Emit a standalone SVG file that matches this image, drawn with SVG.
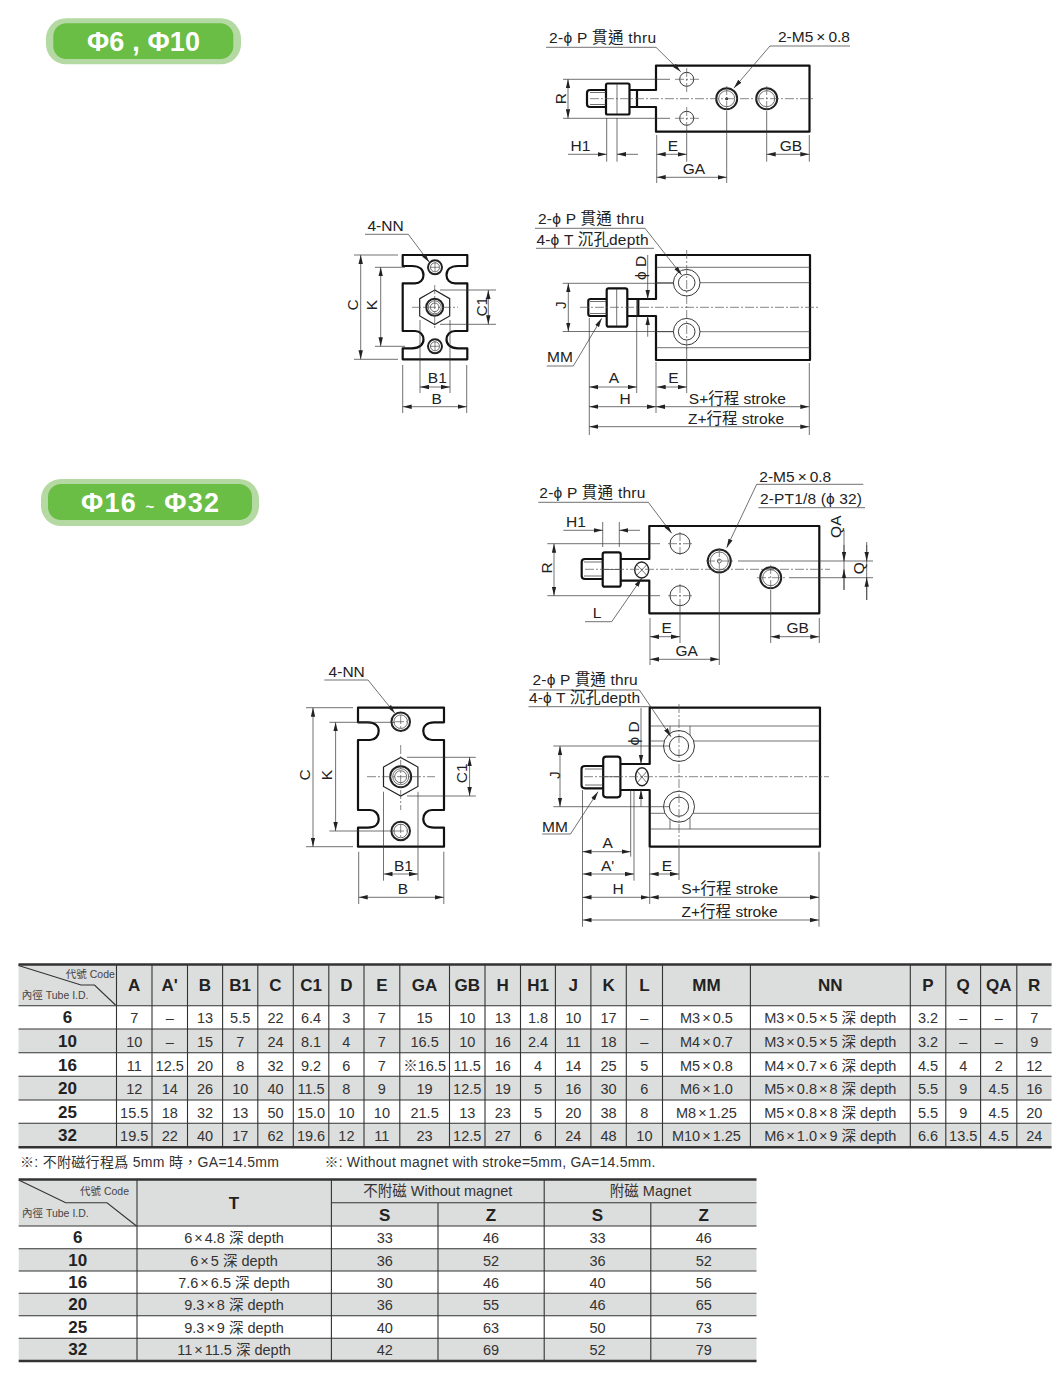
<svg xmlns="http://www.w3.org/2000/svg" width="1060" height="1392" viewBox="0 0 1060 1392">
<style>
text{font-family:"Liberation Sans","Noto Sans CJK TC",sans-serif;fill:#222;text-anchor:middle}
.l{font-size:15.5px}
.s{text-anchor:start}
.b{fill:none;stroke:#111;stroke-width:2.2;stroke-linejoin:round}
.t{fill:none;stroke:#333;stroke-width:.7}
.h{fill:#fff;stroke:#222;stroke-width:.9}
.hb{fill:#fff;stroke:#222;stroke-width:2}
.c{fill:none;stroke:#555;stroke-width:.7;stroke-dasharray:9 2 2 2}
.d{fill:none;stroke:#333;stroke-width:.7}
.a{fill:none;stroke:#333;stroke-width:.7;marker-end:url(#ar)}
.aa{fill:none;stroke:#333;stroke-width:.7;marker-end:url(#ar);marker-start:url(#ar)}
.g{fill:#dcdddd}
.tl{stroke:#333;stroke-width:1.1;fill:none}
.tk{stroke:#333;stroke-width:2.4;fill:none}
.hd{font-size:17px;font-weight:bold;fill:#222}
.rw{font-size:17px;font-weight:bold;fill:#222}
.v{font-size:14.5px;fill:#333}
.sm{font-size:10.5px;fill:#444}
.pt{font-size:27px;font-weight:bold;fill:#fff}
</style>
<defs>
<marker id="ar" markerUnits="userSpaceOnUse" markerWidth="9" markerHeight="5" refX="9" refY="2.5" orient="auto-start-reverse"><path d="M0 .3L9 2.5L0 4.7z" fill="#222"/></marker>
</defs>

<g id="pill-phi6-10">
<rect x="46" y="18.3" width="195" height="46" rx="20" fill="#b5d9a3"/>
<rect x="53.3" y="23.3" width="180" height="35.7" rx="13" fill="#6abd45"/>
<text class="pt s" x="87" y="51" textLength="113">Φ6 , Φ10</text>
</g>
<g id="pill-phi16-32">
<rect x="41" y="479" width="218" height="47" rx="20" fill="#b5d9a3"/>
<rect x="48" y="484" width="204" height="36" rx="13" fill="#6abd45"/>
<text class="pt s" x="81" y="512" textLength="138">Φ16 <tspan font-size="15">~</tspan> Φ32</text>
</g>

<g id="view-a-top">
<path class="b" d="M637 90H656V65.7H809.5V131.7H656V107H637"/>
<rect class="b" x="606" y="83.5" width="23.5" height="31" rx="1.5"/>
<path class="b" d="M629.5 90H637V107H629.5M606 90H590Q587 90 587 93V104Q587 107 590 107H606"/>
<path class="t" d="M590 92.5H606M590 104.5H606M617 84V114"/>
<circle class="h" cx="686.7" cy="79.3" r="7"/><circle class="h" cx="686.7" cy="118.3" r="7"/>
<circle class="hb" cx="726.7" cy="98.7" r="10.5"/><circle class="t" cx="726.7" cy="98.7" r="8"/><circle cx="726.7" cy="98.7" r="1.5" fill="#333"/>
<circle class="hb" cx="766.7" cy="98.7" r="10.5"/><circle class="t" cx="766.7" cy="98.7" r="8"/>
<path class="c" d="M590 98.7H815M675 79.3H699M675 118.3H699M686.7 68V92M686.7 107V129M726.7 86V111M766.7 86V111"/>
</g>

<g id="view-b-end">
<path class="b" d="M412 266H402.7V255H467.3V266H458C450 266 446.5 270 446.5 275C446.5 280 450 283.3 455 283.3H467.3V331H455C450 331 446.5 335 446.5 339.5C446.5 344 450 348.3 458 348.3H467.3V359.3H402.7V348.3H412C420 348.3 423.5 344 423.5 339.5C423.5 335 420 331 415 331H402.7V283.3H415C420 283.3 423.5 280 423.5 275C423.5 270 420 266 412 266Z"/>
<polygon class="h" points="434.7,290.1 449.7,298.7 449.7,315.9 434.7,324.5 419.7,315.9 419.7,298.7" style="stroke-width:1.2"/>
<circle class="hb" cx="434.7" cy="307.3" r="8.5"/><circle class="t" cx="434.7" cy="307.3" r="6.5"/><circle class="t" cx="434.7" cy="307.3" r="4.3"/>
<circle class="hb" cx="435" cy="267.3" r="7"/><circle class="t" cx="435" cy="267.3" r="4.5"/>
<circle class="hb" cx="435" cy="346.3" r="7"/><circle class="t" cx="435" cy="346.3" r="4.5"/>
<path class="c" d="M412 307.3H458M434.7 285V330M430 267.3H440M435 262V272M430 346.3H440M435 341V351"/>
</g>

<g id="view-b-side">
<path class="b" d="M638.3 299H656V255H810V360H656V316H638.3"/>
<rect class="b" x="606.7" y="288.3" width="20.6" height="38.4" rx="2"/>
<path class="b" d="M627.3 299H638.3V316H627.3M606.7 299H590.5Q588.3 299 588.3 301V314Q588.3 316 590.5 316H606.7"/>
<path class="t" d="M590 301.5H606.7M590 313.5H606.7M616.7 289V326"/>
<path class="t" d="M656 267.3H810M656 282.7H810M656 331.7H810M656 347.7H810"/>
<circle class="h" cx="686.7" cy="282.7" r="13.3"/><circle class="h" cx="686.7" cy="282.7" r="8.3"/>
<circle class="h" cx="686.7" cy="331.7" r="13.3"/><circle class="h" cx="686.7" cy="331.7" r="8.3"/>
<path class="c" d="M580 307.3H820M686.7 250V350"/>
</g>

<g id="view-c-top">
<path class="b" d="M620.7 559H649.3V526H819.3V613.3H649.3V580.7H620.7"/>
<rect class="b" x="602.7" y="552.3" width="18" height="34.4" rx="2"/>
<path class="b" d="M602.7 559H585Q581.7 559 581.7 562V576Q581.7 579 585 579H602.7"/>
<path class="t" d="M584 562H602.7M584 576H602.7M603 569.5H620.5"/>
<ellipse class="h" cx="641.7" cy="570" rx="7" ry="8" style="stroke-width:1.4"/>
<path class="t" d="M636.5 564.5L647 575.5M647 564.5L636.5 575.5"/>
<circle class="h" cx="680" cy="543.7" r="10"/><circle class="h" cx="680" cy="595.7" r="10"/>
<circle class="hb" cx="719.3" cy="561" r="11.5"/><circle class="t" cx="719.3" cy="561" r="9"/><circle class="t" cx="719.3" cy="561" r="2"/>
<circle class="hb" cx="770.7" cy="577.7" r="10.5"/><circle class="t" cx="770.7" cy="577.7" r="8"/>
<path class="c" d="M585 569.3H830M668 543.7H692M668 595.7H692M680 532V555M680 584V607M706 561H733M719.3 548V574M757 577.7H785M770.7 565V590"/>
</g>

<g id="view-d-end">
<path class="b" d="M368 722.3H358V707.7H444V722.3H434C427 722.3 423.3 726 423.3 731C423.3 736 427 740 432 740H444V810H432C427 810 423.3 814 423.3 819C423.3 824 427 827.7 434 827.7H444V846.7H358V827.7H368C375 827.7 378.7 824 378.7 819C378.7 814 375 810 370 810H358V740H370C375 740 378.7 736 378.7 731C378.7 726 375 722.3 368 722.3Z"/>
<polygon class="h" points="400.7,757.4 417.9,767 417.9,786.4 400.7,796 383.5,786.4 383.5,767" style="stroke-width:1.2"/>
<circle class="hb" cx="400.7" cy="776.7" r="10.5"/><circle class="t" cx="400.7" cy="776.7" r="8"/><circle class="t" cx="400.7" cy="776.7" r="6"/>
<circle class="hb" cx="400.7" cy="721.7" r="9.3"/><circle class="t" cx="400.7" cy="721.7" r="6.8"/>
<circle class="hb" cx="400.7" cy="831" r="9.3"/><circle class="t" cx="400.7" cy="831" r="6.8"/>
<path class="c" d="M367 776.7H435M400.7 745V810M395 721.7H407M400.7 715V729M395 831H407M400.7 824V838"/>
</g>

<g id="view-d-side">
<path class="b" d="M620.4 764H649.7V707.7H820V846.7H649.7V790H620.4"/>
<rect class="b" x="603.2" y="756.7" width="17.2" height="40.6" rx="3"/>
<path class="b" d="M603.2 766H585Q581.5 766 581.5 769V785Q581.5 788.3 585 788.3H603.2"/>
<path class="t" d="M585 769H603.2M585 785H603.2M603.5 776.7H620"/>
<ellipse class="h" cx="642" cy="776.7" rx="6.5" ry="9" style="stroke-width:1.4"/>
<path class="t" d="M637 771L647 783M647 771L637 783"/>
<path class="t" d="M649.7 726H820M649.7 741H820M649.7 813.3H820M649.7 829H820M670 726V738M690 726V738M670 815V829M690 815V829"/>
<circle class="h" cx="679" cy="746" r="15.5"/><circle class="h" cx="679" cy="746" r="9.6"/>
<circle class="h" cx="679" cy="806.7" r="15.5"/><circle class="h" cx="679" cy="806.7" r="9.6"/>
<path class="c" d="M584 776.7H829M679 704V850"/>
</g>

<g id="connectors">
<path class="d" d="M546 47.3H656M770 46H850M563 79.3H670M563 118.3H670M606.7 118V161.7M617 118V161.7M656.7 135V183M686.7 129V161.7M726.7 111V183M766.7 111V161.7M809.3 135V161.7"/>
<path class="a" d="M656 47.3L680.7 71.7"/><path class="a" d="M770 46L734 88"/>
<path class="aa" d="M568 79.3V118.3"/>
<path class="a" d="M568 154.3H606.7"/><path class="a" d="M638 154.3H617"/>
<path class="aa" d="M656.7 154.3H686.7"/><path class="aa" d="M656.7 177.3H726.7"/><path class="aa" d="M766.7 154.3H809.3"/>
<path class="d" d="M365 234.3H408.3M535 228.3H645M536 248.3H654M546.7 366H573.3M354 255H398M354 359.3H398M375 267.3H405M375 346.3H405M440 290H496M440 324.3H496M420 320V393M450 320V393M402.7 365V413M466.7 365V413M562.7 283.3H673M562.7 331.5H673M589.3 318V435M636.7 300V393M656 362V413M686.7 348V393M809.3 363V435"/>
<path class="a" d="M408.3 234.3L429.3 262.3"/><path class="a" d="M645 228.3L681.7 275"/><path class="a" d="M573.3 366L601.7 318.3"/>
<path class="aa" d="M360.7 255V359.3"/><path class="aa" d="M380.7 267.3V346.3"/><path class="aa" d="M488.3 290V324.3"/>
<path class="aa" d="M420 387H450"/><path class="aa" d="M402.7 406.7H466.7"/><path class="aa" d="M568.3 283.3V331.5"/>
<path class="a" d="M647.7 255V299"/><path class="a" d="M647.7 336.7V316"/>
<path class="aa" d="M589.3 387H636.7"/><path class="aa" d="M589.3 406.7H656"/><path class="aa" d="M656.7 387H686.7"/><path class="aa" d="M656 406.7H809.3"/><path class="aa" d="M589.3 426.7H809.3"/>
<path class="d" d="M538.3 502.3H648.3M756.7 484.3H863.3M758.3 507.7H865M585 621.7H611.7M602.7 522V547M619.3 522V547M547.3 543.7H660M547.3 595.7H660M650 618V665M680 607V643M719.3 574V665M770.7 590V643M819.3 618V643M738 561H873M789 577.7H873M844 530V590M866.7 542V600"/>
<path class="a" d="M648.3 502.3L671.7 533.3"/><path class="a" d="M756.7 484.3L726.7 547.7"/><path class="a" d="M611.7 621.7L641.7 578.3"/>
<path class="a" d="M563.3 530.3H602.7"/><path class="a" d="M640 530.3H619.3"/>
<path class="aa" d="M554 543.7V595.7"/>
<path class="aa" d="M650 636.7H680"/><path class="aa" d="M650 659.3H719.3"/><path class="aa" d="M770.7 636.7H819.3"/>
<path class="a" d="M844 545V561"/><path class="a" d="M844 590V569.3"/><path class="a" d="M866.7 545V561"/><path class="a" d="M866.7 600V577.7"/>
<path class="d" d="M324.3 680H368M529 690H639.4M528.5 706.7H649.7M542.2 834H570.5M306 707.7H353M306 846.7H353M329.4 722.3H395M329.4 831H395M407 757.3H475.8M407 796H475.8M383.5 791.7V880.7M418 791.7V880.7M358.7 851.7V904M443.8 851.7V904M553.3 746H670M553.3 806.7H670M582.5 790V926.7M630.7 790V856.7M634 790V880.7M649.7 848V904M679 848V880M819 851.7V926.7"/>
<path class="a" d="M368 680L394.9 713.3"/><path class="a" d="M639.4 690L671 736.7"/><path class="a" d="M570.5 834L598 791.7"/>
<path class="aa" d="M313 707.7V846.7"/><path class="aa" d="M335.6 722.3V831"/><path class="aa" d="M469.6 757.3V796"/>
<path class="aa" d="M383.5 874H418"/><path class="aa" d="M358.7 897.3H443.8"/>
<path class="aa" d="M560 746V806.7"/>
<path class="a" d="M641 708V764"/><path class="a" d="M641 806.7V790"/>
<path class="aa" d="M582.5 851.7H630.7"/><path class="aa" d="M582.5 874H634"/><path class="aa" d="M582.5 897.3H649.7"/><path class="aa" d="M649.7 874H679"/><path class="aa" d="M649.7 897.3H819"/><path class="aa" d="M582.5 920H819"/>
</g>

<g id="labels">
<text class="l s" x="549" y="42.7" textLength="107">2-ϕ P 貫通 thru</text>
<text class="l s" x="778" y="41.7">2-M5<tspan dx="3">×</tspan><tspan dx="3">0.8</tspan></text>
<text class="l" transform="translate(566,98.7) rotate(-90)">R</text>
<text class="l" x="580.5" y="151">H1</text><text class="l" x="673" y="151">E</text><text class="l" x="694" y="174">GA</text><text class="l" x="791" y="151">GB</text>

<text class="l" x="385.5" y="231">4-NN</text>
<text class="l" transform="translate(358,305) rotate(-90)">C</text>
<text class="l" transform="translate(377,305) rotate(-90)">K</text>
<text class="l" transform="translate(487,306.7) rotate(-90)">C1</text>
<text class="l" x="437.3" y="383.3">B1</text><text class="l" x="436.7" y="404">B</text>
<text class="l s" x="538" y="224.3" textLength="106">2-ϕ P 貫通 thru</text>
<text class="l s" x="536.5" y="245" textLength="112">4-ϕ T 沉孔depth</text>
<text class="l" transform="translate(646,268) rotate(-90)">ϕ D</text>
<text class="l" transform="translate(565.5,305) rotate(-90)">J</text>
<text class="l" x="560" y="362.3">MM</text>
<text class="l" x="614" y="383.3">A</text><text class="l" x="625" y="404.3">H</text><text class="l" x="673.3" y="383.3">E</text>
<text class="l" x="737.3" y="404.3">S+行程 stroke</text><text class="l" x="736" y="424">Z+行程 stroke</text>

<text class="l s" x="539.3" y="497.7" textLength="106">2-ϕ P 貫通 thru</text>
<text class="l s" x="759.3" y="482.3">2-M5<tspan dx="3">×</tspan><tspan dx="3">0.8</tspan></text>
<text class="l s" x="760" y="504.3" textLength="102">2-PT1/8 (ϕ 32)</text>
<text class="l" x="576" y="526.7">H1</text>
<text class="l" transform="translate(551.5,568) rotate(-90)">R</text>
<text class="l" x="597" y="617.7">L</text>
<text class="l" x="666.7" y="633.3">E</text><text class="l" x="686.7" y="656">GA</text><text class="l" x="797.7" y="633.3">GB</text>
<text class="l" transform="translate(841,526.7) rotate(-90)">QA</text>
<text class="l" transform="translate(863.5,568.3) rotate(-90)">Q</text>

<text class="l" x="346.7" y="677.3">4-NN</text>
<text class="l" transform="translate(310,775) rotate(-90)">C</text>
<text class="l" transform="translate(332,775) rotate(-90)">K</text>
<text class="l" transform="translate(467,773.3) rotate(-90)">C1</text>
<text class="l" x="403.5" y="870.7">B1</text><text class="l" x="402.8" y="894">B</text>
<text class="l s" x="532.6" y="685" textLength="105">2-ϕ P 貫通 thru</text>
<text class="l s" x="529" y="703.3" textLength="111">4-ϕ T 沉孔depth</text>
<text class="l" transform="translate(639,733.3) rotate(-90)">ϕ D</text>
<text class="l" transform="translate(560,775) rotate(-90)">J</text>
<text class="l" x="555" y="831.7">MM</text>
<text class="l" x="607.7" y="848.3">A</text><text class="l" x="607.7" y="870.7">A'</text><text class="l" x="618" y="894">H</text><text class="l" x="667" y="870.7">E</text>
<text class="l" x="729.6" y="894">S+行程 stroke</text><text class="l" x="729.6" y="916.7">Z+行程 stroke</text>
</g>

<g id="table-dimensions">
<rect class="g" x="18.5" y="964.3" width="1033" height="41.4"/>
<rect class="g" x="18.5" y="1029" width="1033" height="23.7"/>
<rect class="g" x="18.5" y="1076.3" width="1033" height="23.7"/>
<rect class="g" x="18.5" y="1123.3" width="1033" height="24"/>
<path class="tk" d="M18.5 964.5H1051.6M18.5 1147.3H1051.6"/>
<path class="tl" d="M18.5 1005.7H1051.6M18.5 1029H1051.6M18.5 1052.7H1051.6M18.5 1076.3H1051.6M18.5 1100H1051.6M18.5 1123.3H1051.6"/>
<path class="tl" d="M116.5 965V1147M152 965V1147M187.5 965V1147M222.6 965V1147M257.8 965V1147M293.3 965V1147M328.8 965V1147M364 965V1147M399.8 965V1147M449.5 965V1147M485 965V1147M520.5 965V1147M555.4 965V1147M590.9 965V1147M626.3 965V1147M662.5 965V1147M750.4 965V1147M910.3 965V1147M945.8 965V1147M980.6 965V1147M1016.8 965V1147"/>
<path class="tl" d="M18.5 965.5L81 985H94.5L115.5 1005"/>
<text class="sm s" x="65.8" y="977.7">代號 Code</text>
<text class="sm s" x="21.8" y="999">內徑 Tube I.D.</text>
<g transform="translate(0,991)"><text class="hd" x="134.2">A</text><text class="hd" x="169.7">A'</text><text class="hd" x="205">B</text><text class="hd" x="240.2">B1</text><text class="hd" x="275.5">C</text><text class="hd" x="311">C1</text><text class="hd" x="346.4">D</text><text class="hd" x="381.9">E</text><text class="hd" x="424.6">GA</text><text class="hd" x="467.2">GB</text><text class="hd" x="502.7">H</text><text class="hd" x="538">H1</text><text class="hd" x="573.2">J</text><text class="hd" x="608.6">K</text><text class="hd" x="644.4">L</text><text class="hd" x="706.4">MM</text><text class="hd" x="830.3">NN</text><text class="hd" x="928">P</text><text class="hd" x="963.2">Q</text><text class="hd" x="998.7">QA</text><text class="hd" x="1034.2">R</text></g>
<g transform="translate(0,1023.3)"><text class="rw" x="67.5">6</text><text class="v" x="134.2">7</text><text class="v" x="169.7">–</text><text class="v" x="205">13</text><text class="v" x="240.2">5.5</text><text class="v" x="275.5">22</text><text class="v" x="311">6.4</text><text class="v" x="346.4">3</text><text class="v" x="381.9">7</text><text class="v" x="424.6">15</text><text class="v" x="467.2">10</text><text class="v" x="502.7">13</text><text class="v" x="538">1.8</text><text class="v" x="573.2">10</text><text class="v" x="608.6">17</text><text class="v" x="644.4">–</text><text class="v" x="706.4">M3<tspan dx="2">×</tspan><tspan dx="2">0.5</tspan></text><text class="v" x="830.3">M3<tspan dx="2">×</tspan><tspan dx="2">0.5</tspan><tspan dx="2">×</tspan><tspan dx="2">5 深 depth</tspan></text><text class="v" x="928">3.2</text><text class="v" x="963.2">–</text><text class="v" x="998.7">–</text><text class="v" x="1034.2">7</text></g>
<g transform="translate(0,1046.7)"><text class="rw" x="67.5">10</text><text class="v" x="134.2">10</text><text class="v" x="169.7">–</text><text class="v" x="205">15</text><text class="v" x="240.2">7</text><text class="v" x="275.5">24</text><text class="v" x="311">8.1</text><text class="v" x="346.4">4</text><text class="v" x="381.9">7</text><text class="v" x="424.6">16.5</text><text class="v" x="467.2">10</text><text class="v" x="502.7">16</text><text class="v" x="538">2.4</text><text class="v" x="573.2">11</text><text class="v" x="608.6">18</text><text class="v" x="644.4">–</text><text class="v" x="706.4">M4<tspan dx="2">×</tspan><tspan dx="2">0.7</tspan></text><text class="v" x="830.3">M3<tspan dx="2">×</tspan><tspan dx="2">0.5</tspan><tspan dx="2">×</tspan><tspan dx="2">5 深 depth</tspan></text><text class="v" x="928">3.2</text><text class="v" x="963.2">–</text><text class="v" x="998.7">–</text><text class="v" x="1034.2">9</text></g>
<g transform="translate(0,1070.7)"><text class="rw" x="67.5">16</text><text class="v" x="134.2">11</text><text class="v" x="169.7">12.5</text><text class="v" x="205">20</text><text class="v" x="240.2">8</text><text class="v" x="275.5">32</text><text class="v" x="311">9.2</text><text class="v" x="346.4">6</text><text class="v" x="381.9">7</text><text class="v" x="424.6">※16.5</text><text class="v" x="467.2">11.5</text><text class="v" x="502.7">16</text><text class="v" x="538">4</text><text class="v" x="573.2">14</text><text class="v" x="608.6">25</text><text class="v" x="644.4">5</text><text class="v" x="706.4">M5<tspan dx="2">×</tspan><tspan dx="2">0.8</tspan></text><text class="v" x="830.3">M4<tspan dx="2">×</tspan><tspan dx="2">0.7</tspan><tspan dx="2">×</tspan><tspan dx="2">6 深 depth</tspan></text><text class="v" x="928">4.5</text><text class="v" x="963.2">4</text><text class="v" x="998.7">2</text><text class="v" x="1034.2">12</text></g>
<g transform="translate(0,1094.3)"><text class="rw" x="67.5">20</text><text class="v" x="134.2">12</text><text class="v" x="169.7">14</text><text class="v" x="205">26</text><text class="v" x="240.2">10</text><text class="v" x="275.5">40</text><text class="v" x="311">11.5</text><text class="v" x="346.4">8</text><text class="v" x="381.9">9</text><text class="v" x="424.6">19</text><text class="v" x="467.2">12.5</text><text class="v" x="502.7">19</text><text class="v" x="538">5</text><text class="v" x="573.2">16</text><text class="v" x="608.6">30</text><text class="v" x="644.4">6</text><text class="v" x="706.4">M6<tspan dx="2">×</tspan><tspan dx="2">1.0</tspan></text><text class="v" x="830.3">M5<tspan dx="2">×</tspan><tspan dx="2">0.8</tspan><tspan dx="2">×</tspan><tspan dx="2">8 深 depth</tspan></text><text class="v" x="928">5.5</text><text class="v" x="963.2">9</text><text class="v" x="998.7">4.5</text><text class="v" x="1034.2">16</text></g>
<g transform="translate(0,1117.7)"><text class="rw" x="67.5">25</text><text class="v" x="134.2">15.5</text><text class="v" x="169.7">18</text><text class="v" x="205">32</text><text class="v" x="240.2">13</text><text class="v" x="275.5">50</text><text class="v" x="311">15.0</text><text class="v" x="346.4">10</text><text class="v" x="381.9">10</text><text class="v" x="424.6">21.5</text><text class="v" x="467.2">13</text><text class="v" x="502.7">23</text><text class="v" x="538">5</text><text class="v" x="573.2">20</text><text class="v" x="608.6">38</text><text class="v" x="644.4">8</text><text class="v" x="706.4">M8<tspan dx="2">×</tspan><tspan dx="2">1.25</tspan></text><text class="v" x="830.3">M5<tspan dx="2">×</tspan><tspan dx="2">0.8</tspan><tspan dx="2">×</tspan><tspan dx="2">8 深 depth</tspan></text><text class="v" x="928">5.5</text><text class="v" x="963.2">9</text><text class="v" x="998.7">4.5</text><text class="v" x="1034.2">20</text></g>
<g transform="translate(0,1141.3)"><text class="rw" x="67.5">32</text><text class="v" x="134.2">19.5</text><text class="v" x="169.7">22</text><text class="v" x="205">40</text><text class="v" x="240.2">17</text><text class="v" x="275.5">62</text><text class="v" x="311">19.6</text><text class="v" x="346.4">12</text><text class="v" x="381.9">11</text><text class="v" x="424.6">23</text><text class="v" x="467.2">12.5</text><text class="v" x="502.7">27</text><text class="v" x="538">6</text><text class="v" x="573.2">24</text><text class="v" x="608.6">48</text><text class="v" x="644.4">10</text><text class="v" x="706.4">M10<tspan dx="2">×</tspan><tspan dx="2">1.25</tspan></text><text class="v" x="830.3">M6<tspan dx="2">×</tspan><tspan dx="2">1.0</tspan><tspan dx="2">×</tspan><tspan dx="2">9 深 depth</tspan></text><text class="v" x="928">6.6</text><text class="v" x="963.2">13.5</text><text class="v" x="998.7">4.5</text><text class="v" x="1034.2">24</text></g>
</g>

<g id="table-notes">
<text class="s" x="20" y="1167" font-size="14" style="fill:#333" textLength="259">※: 不附磁行程爲 5mm 時，GA=14.5mm</text>
<text class="s" x="324.4" y="1167" font-size="14" style="fill:#333" textLength="331">※: Without magnet with stroke=5mm, GA=14.5mm.</text>
</g>

<g id="table-bore">
<rect class="g" x="18.7" y="1179.3" width="737.8" height="46.7"/>
<rect class="g" x="18.7" y="1248.7" width="737.8" height="22.3"/>
<rect class="g" x="18.7" y="1293.3" width="737.8" height="22.4"/>
<rect class="g" x="18.7" y="1338.3" width="737.8" height="22.7"/>
<path class="tk" d="M18.7 1179.5H756.5M18.7 1361H756.5"/>
<path class="tl" d="M331.4 1202.7H756.5M18.7 1226H756.5M18.7 1248.7H756.5M18.7 1271H756.5M18.7 1293.3H756.5M18.7 1315.7H756.5M18.7 1338.3H756.5"/>
<path class="tl" d="M137 1180V1361M331.4 1180V1361M438 1203V1361M544.2 1180V1361M650.8 1203V1361"/>
<path class="tl" d="M18.7 1180L65.7 1202.7H107L136.5 1226"/>
<text class="sm s" x="80" y="1195">代號 Code</text>
<text class="sm s" x="22" y="1217">內徑 Tube I.D.</text>
<text class="hd" x="234" y="1209">T</text>
<text class="v" x="437.8" y="1196">不附磁 Without magnet</text>
<text class="v" x="650.5" y="1196">附磁 Magnet</text>
<text class="hd" x="384.7" y="1221">S</text><text class="hd" x="491" y="1221">Z</text><text class="hd" x="597.5" y="1221">S</text><text class="hd" x="703.7" y="1221">Z</text>
<g transform="translate(0,1243)"><text class="rw" x="77.8">6</text><text class="v" x="234">6<tspan dx="2">×</tspan><tspan dx="2">4.8 深 depth</tspan></text><text class="v" x="384.7">33</text><text class="v" x="491">46</text><text class="v" x="597.5">33</text><text class="v" x="703.7">46</text></g>
<g transform="translate(0,1265.5)"><text class="rw" x="77.8">10</text><text class="v" x="234">6<tspan dx="2">×</tspan><tspan dx="2">5 深 depth</tspan></text><text class="v" x="384.7">36</text><text class="v" x="491">52</text><text class="v" x="597.5">36</text><text class="v" x="703.7">52</text></g>
<g transform="translate(0,1288)"><text class="rw" x="77.8">16</text><text class="v" x="234">7.6<tspan dx="2">×</tspan><tspan dx="2">6.5 深 depth</tspan></text><text class="v" x="384.7">30</text><text class="v" x="491">46</text><text class="v" x="597.5">40</text><text class="v" x="703.7">56</text></g>
<g transform="translate(0,1310.3)"><text class="rw" x="77.8">20</text><text class="v" x="234">9.3<tspan dx="2">×</tspan><tspan dx="2">8 深 depth</tspan></text><text class="v" x="384.7">36</text><text class="v" x="491">55</text><text class="v" x="597.5">46</text><text class="v" x="703.7">65</text></g>
<g transform="translate(0,1333)"><text class="rw" x="77.8">25</text><text class="v" x="234">9.3<tspan dx="2">×</tspan><tspan dx="2">9 深 depth</tspan></text><text class="v" x="384.7">40</text><text class="v" x="491">63</text><text class="v" x="597.5">50</text><text class="v" x="703.7">73</text></g>
<g transform="translate(0,1355)"><text class="rw" x="77.8">32</text><text class="v" x="234">11<tspan dx="2">×</tspan><tspan dx="2">11.5 深 depth</tspan></text><text class="v" x="384.7">42</text><text class="v" x="491">69</text><text class="v" x="597.5">52</text><text class="v" x="703.7">79</text></g>
</g>
</svg>
